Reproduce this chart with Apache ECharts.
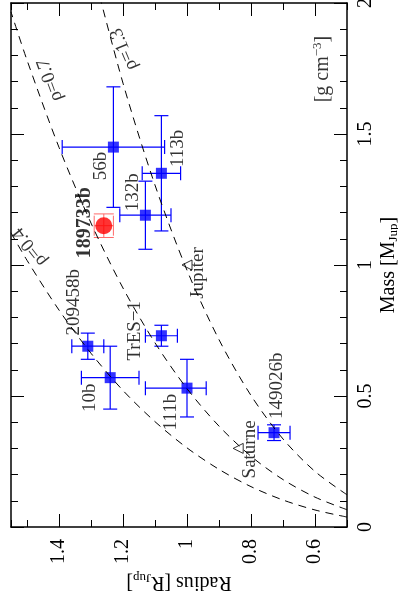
<!DOCTYPE html>
<html><head><meta charset="utf-8">
<script src="https://cdn.jsdelivr.net/npm/echarts@6/dist/echarts.min.js"></script>
<style>html,body{margin:0;padding:0;background:#fff}#c{width:398px;height:606px}</style>
</head><body><div id="c"></div>
<script>
// ---- data ----
const planetNames    = ['56b', '113b', '132b', '209458b', '10b', 'TrES\u22121', '111b', '149026b'];
const planetRadius   = [1.23, 1.08, 1.13, 1.31, 1.24, 1.08, 1.00, 0.728];
const radiusErrPlus  = [0.16, 0.06, 0.08, 0.05, 0.09, 0.05, 0.13, 0.05];
const radiusErrMinus = [0.16, 0.06, 0.08, 0.05, 0.09, 0.05, 0.06, 0.05];
const planetMass     = [1.45, 1.35, 1.19, 0.69, 0.57, 0.73, 0.53, 0.36];
const massErr        = [0.23, 0.22, 0.13, 0.05, 0.12, 0.04, 0.11, 0.03];

const hdName = '189733b';
const hdRadius = 1.26, hdRadiusErr = 0.03, hdMass = 1.15, hdMassErr = 0.045;

const solarNames  = ['Jupiter', 'Saturne'];
const solarRadius = [1.00, 0.84];
const solarMass   = [1.00, 0.30];

// iso-density curves (mass at these radii)
const curveRadius = [0.5, 0.6, 0.7, 0.8, 0.9, 1.0, 1.1, 1.2, 1.3, 1.4, 1.5, 1.55];
const rho04Mass = [0.038, 0.065, 0.103, 0.154, 0.220, 0.302, 0.402, 0.521, 0.663, 0.828, 1.018, 1.123];
const rho07Mass = [0.066, 0.114, 0.181, 0.270, 0.385, 0.528, 0.703, 0.912, 1.160, 1.449, 1.782, 1.966];
const rho13Mass = [0.123, 0.212, 0.336, 0.502, 0.715, 0.980, 1.305, 1.694, 2.154];
const curveNames = ['\u03c1=0.4', '\u03c1=0.7', '\u03c1=1.3'];

const radiusMajorTicks = [0.6, 0.8, 1.0, 1.2, 1.4];

// ---- layout / style ----
const FONT = 'Liberation Serif';
const G = {left: 11, top: 3, width: 336, height: 524, outerBoundsMode: 'none', containLabel: false};
const BLUE = '#0000ff';
// label offsets (in the label's rotated frame)
const planetLabelOffset = [[-19,-12],[25,17],[23,-12],[44,-14],[-20,-20],[5,-26],[-24,-16],[47,3]];
const solarLabelOffset = [[-8,11],[-1,12]];

const chart = echarts.init(document.getElementById('c'), null, {renderer: 'canvas'});

function errRender(color, cap, lw) {
  return function (params, api) {
    const r = api.value(0), m = api.value(1), rp = api.value(2), rm = api.value(3), me = api.value(4);
    const a = api.coord([r + rp, m]), b = api.coord([r - rm, m]);
    const t = api.coord([r, m + me]), d = api.coord([r, m - me]);
    const st = {stroke: color, lineWidth: lw};
    const L = (x1, y1, x2, y2) => ({type: 'line', shape: {x1, y1, x2, y2}, style: st});
    return {type: 'group', children: [
      L(a[0], a[1], b[0], b[1]),
      L(a[0], a[1] - cap, a[0], a[1] + cap),
      L(b[0], b[1] - cap, b[0], b[1] + cap),
      L(t[0], t[1], d[0], d[1]),
      L(t[0] - cap, t[1], t[0] + cap, t[1]),
      L(d[0] - cap, d[1], d[0] + cap, d[1])
    ]};
  };
}

const baseLabel = {show: true, position: 'inside', rotate: 90, fontFamily: FONT, fontSize: 19, color: '#000'};

const axisLineStyle = {show: true, onZero: false, lineStyle: {color: '#000', width: 1.5}};
const fmt = v => String(+(+v).toFixed(2));

const subRich = {
  a: {fontFamily: FONT, fontSize: 20, color: '#000'},
  s: {fontFamily: FONT, fontSize: 13, color: '#000', padding: [10, 0, 0, 0]},
  p: {fontFamily: FONT, fontSize: 13, color: '#000', padding: [0, 0, 10, 0]}
};

const option = {
  backgroundColor: '#fff',
  animation: false,
  grid: [Object.assign({}, G), Object.assign({}, G)],
  xAxis: [
    {gridIndex: 0, type: 'value', position: 'bottom', inverse: true, min: 0.5, max: 1.55, interval: 0.1,
     axisLine: axisLineStyle, splitLine: {show: false},
     axisTick: {show: true, inside: true, length: 7, lineStyle: {color: '#000', width: 1}},
     axisLabel: {show: true, rotate: 90, margin: 12, fontFamily: FONT, fontSize: 20, color: '#000',
       formatter: v => radiusMajorTicks.some(t => Math.abs(t - v) < 1e-6) ? fmt(v) : ''},
     name: '{a|Radius [R}{s|Jup}{a|]}', nameLocation: 'middle', nameGap: 44, nameRotate: 180, nameMoveOverlap: false,
     nameTextStyle: {fontFamily: FONT, fontSize: 20, color: '#000', rich: subRich}},
    {gridIndex: 0, type: 'value', position: 'top', inverse: true, min: 0.5, max: 1.55, interval: 0.1,
     axisLine: axisLineStyle, splitLine: {show: false},
     axisTick: {show: true, inside: true, length: 7, lineStyle: {color: '#000', width: 1}},
     axisLabel: {show: false}},
    {gridIndex: 1, type: 'value', position: 'bottom', inverse: true, min: 0.5, max: 1.55,
     axisLine: {show: false}, splitLine: {show: false},
     axisTick: {show: true, inside: true, length: 13, customValues: radiusMajorTicks, lineStyle: {color: '#000', width: 1}},
     axisLabel: {show: false}},
    {gridIndex: 1, type: 'value', position: 'top', inverse: true, min: 0.5, max: 1.55,
     axisLine: {show: false}, splitLine: {show: false},
     axisTick: {show: true, inside: true, length: 13, customValues: radiusMajorTicks, lineStyle: {color: '#000', width: 1}},
     axisLabel: {show: false}}
  ],
  yAxis: [
    {gridIndex: 0, type: 'value', position: 'right', min: 0, max: 2, interval: 0.5,
     axisLine: axisLineStyle, splitLine: {show: false},
     axisTick: {show: true, inside: true, length: 13, lineStyle: {color: '#000', width: 1}},
     minorTick: {show: true, splitNumber: 5, length: 7, lineStyle: {color: '#000', width: 1}},
     minorSplitLine: {show: false},
     axisLabel: {show: true, rotate: 90, margin: 9, fontFamily: FONT, fontSize: 20, color: '#000', formatter: fmt},
     name: '{a|Mass [M}{s|Jup}{a|]}', nameLocation: 'middle', nameGap: 30, nameRotate: 90, nameMoveOverlap: false,
     nameTextStyle: {fontFamily: FONT, fontSize: 20, color: '#000', rich: subRich}},
    {gridIndex: 0, type: 'value', position: 'left', min: 0, max: 2, interval: 0.5,
     axisLine: axisLineStyle, splitLine: {show: false},
     axisTick: {show: true, inside: true, length: 13, lineStyle: {color: '#000', width: 1}},
     minorTick: {show: true, splitNumber: 5, length: 7, lineStyle: {color: '#000', width: 1}},
     axisLabel: {show: false}},
    {gridIndex: 1, type: 'value', min: 0, max: 2, show: false}
  ],
  series: [
    // planet error bars
    {type: 'custom', xAxisIndex: 0, yAxisIndex: 0, z: 2, silent: true,
     data: planetRadius.map((r, i) => [r, planetMass[i], radiusErrPlus[i], radiusErrMinus[i], massErr[i]]),
     renderItem: errRender(BLUE, 7, 1.2)},
    // HD 189733b error bars
    {type: 'custom', xAxisIndex: 0, yAxisIndex: 0, z: 2, silent: true,
     data: [[hdRadius, hdMass, hdRadiusErr, hdRadiusErr, hdMassErr]],
     renderItem: errRender('#ff6a6a', 10, 1)},
    // planets
    {type: 'scatter', xAxisIndex: 0, yAxisIndex: 0, z: 3, symbol: 'rect', symbolSize: 11,
     itemStyle: {color: BLUE},
     data: planetRadius.map((r, i) => ({value: [r, planetMass[i]], name: planetNames[i],
       label: Object.assign({}, baseLabel, {formatter: planetNames[i], offset: planetLabelOffset[i]})}))},
    {type: 'scatter', xAxisIndex: 0, yAxisIndex: 0, z: 3, symbol: 'circle', symbolSize: 17,
     itemStyle: {color: '#ff0000'},
     data: [{value: [hdRadius, hdMass], name: hdName,
       label: Object.assign({}, baseLabel, {formatter: hdName, fontWeight: 'bold', fontSize: 20, offset: [3, -19]})}]},
    {type: 'scatter', xAxisIndex: 0, yAxisIndex: 0, z: 3, symbol: 'triangle', symbolSize: 10, symbolRotate: 90,
     itemStyle: {color: '#fff', borderColor: '#000', borderWidth: 1},
     data: solarRadius.map((r, i) => ({value: [r, solarMass[i]], name: solarNames[i],
       label: Object.assign({}, baseLabel, {formatter: solarNames[i], offset: solarLabelOffset[i]})}))},
    // density curves
    ...[rho04Mass, rho07Mass, rho13Mass].map((arr, k) => ({
      type: 'line', xAxisIndex: 0, yAxisIndex: 0, z: 6, silent: true, name: curveNames[k],
      data: arr.map((m, i) => [curveRadius[i], m]), smooth: 0.3, symbol: 'none', clip: true,
      lineStyle: {color: '#000', width: 1, type: [8, 6]}
    })),
    // text annotations (curve labels and density unit)
    {type: 'scatter', xAxisIndex: 0, yAxisIndex: 0, z: 7, silent: true, symbolSize: 1,
     itemStyle: {color: 'transparent'},
     data: [
       {value: [1.491, 1.069], label: Object.assign({}, baseLabel, {formatter: curveNames[0], rotate: 128})},
       {value: [1.428, 1.706], label: Object.assign({}, baseLabel, {formatter: curveNames[1], rotate: 110})},
       {value: [1.197, 1.824], label: Object.assign({}, baseLabel, {formatter: curveNames[2], rotate: 113})},
       {value: [0.575, 1.748], label: Object.assign({}, baseLabel, {formatter: '{a|[g cm}{p|\u22123}{a|]}', rich: subRich})}
     ]}
  ]
};
chart.setOption(option);
</script></body></html>
